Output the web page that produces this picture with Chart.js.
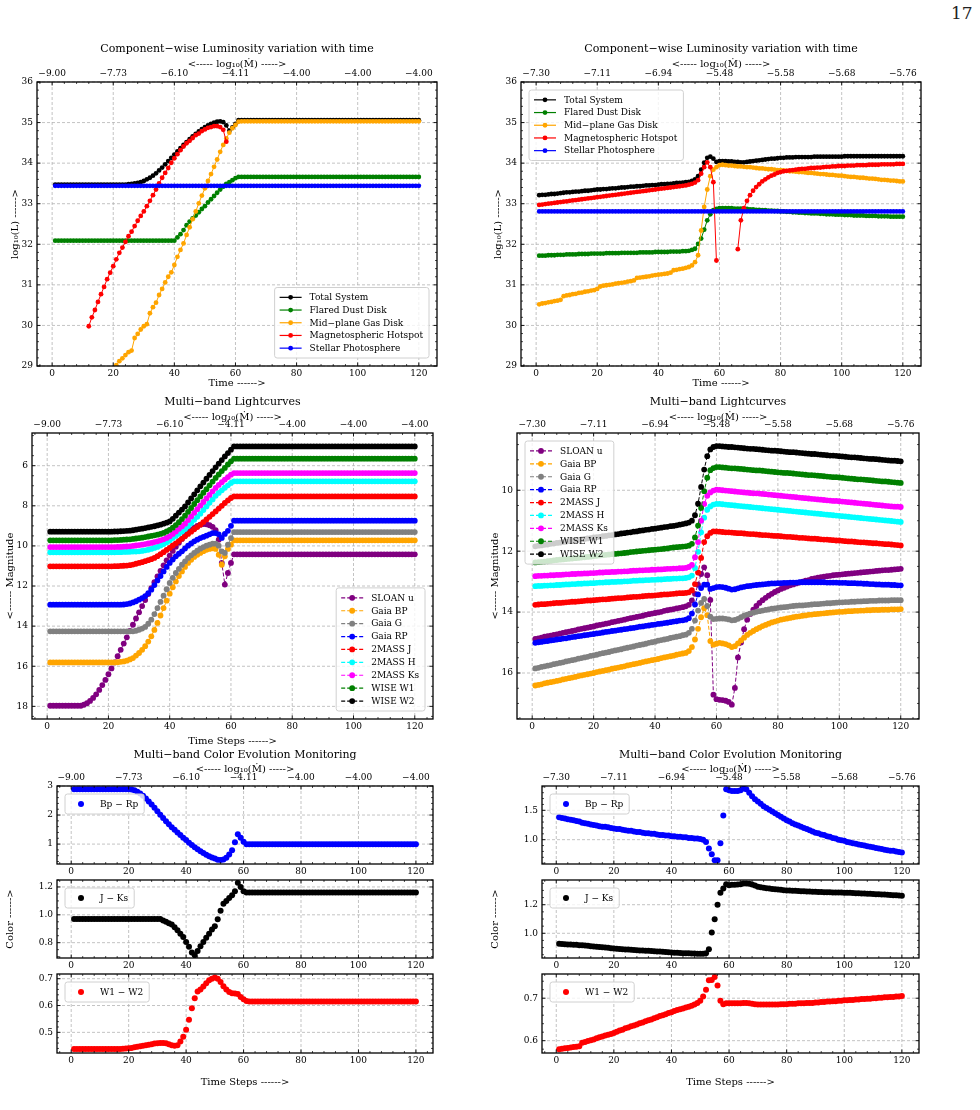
<!DOCTYPE html>
<html>
<head>
<meta charset="utf-8">
<script src="https://cdn.jsdelivr.net/npm/chart.js@4.4.0/dist/chart.umd.min.js"></script>
<style>
  html, body { margin: 0; padding: 0; background: #fff; }
  #page { position: relative; width: 980px; height: 1110px; overflow: hidden; background: #fff; }
  #pageNo { position: absolute; left: 951px; top: 3px; font: 17px 'DejaVu Serif', serif; color: #222; }
</style>
</head>
<body>
<div id="page"><div id="pageNo">17</div></div>
<script>
// ---- data -------------------------------------------------------------
const rep = (v, n) => Array(n).fill(v);
const timeSteps = Array.from({length: 120}, (_, i) => i + 1);

const mdotTicksL = ['−9.00', '−7.73', '−6.10', '−4.11', '−4.00', '−4.00', '−4.00'];
const mdotTicksR = ['−7.30', '−7.11', '−6.94', '−5.48', '−5.58', '−5.68', '−5.76'];

const lumNames = ['Total System', 'Flared Dust Disk', 'Mid−plane Gas Disk', 'Magnetospheric Hotspot', 'Stellar Photosphere'];
const bandNames = ['SLOAN u', 'Gaia BP', 'Gaia G', 'Gaia RP', '2MASS J', '2MASS H', '2MASS Ks', 'WISE W1', 'WISE W2'];
const colorNames = ['Bp − Rp', 'J − Ks', 'W1 − W2'];

// left column: log10 L
const lumTotalL = [...rep(33.47, 24),
  33.48, 33.49, 33.50, 33.51, 33.53, 33.56, 33.60, 33.64, 33.69, 33.75,
  33.82, 33.89, 33.97, 34.05, 34.13, 34.21, 34.29, 34.37, 34.45, 34.52,
  34.59, 34.66, 34.72, 34.78, 34.84, 34.89, 34.93, 34.97, 35.00, 35.02,
  35.03, 35.01, 34.93, 34.80, 34.88, 34.97, 35.06, ...rep(35.06, 59)];
const lumDustL = [...rep(32.09, 40),
  32.17, 32.25, 32.35, 32.47, 32.56, 32.64, 32.71, 32.79, 32.87, 32.94,
  33.03, 33.11, 33.19, 33.27, 33.35, 33.42, 33.49, 33.53, 33.58, 33.63,
  33.66, ...rep(33.66, 59)];
const lumGasL = [...rep(null, 20),
  29.02, 29.12, 29.19, 29.27, 29.34, 29.38, 29.69, 29.79, 29.90, 29.98,
  30.03, 30.30, 30.45, 30.56, 30.75, 30.90, 31.06, 31.20, 31.31, 31.49,
  31.69, 31.86, 32.02, 32.23, 32.42, 32.62, 32.81, 33.01, 33.20, 33.38,
  33.56, 33.73, 33.91, 34.09, 34.28, 34.45, 34.61, 34.75, 34.86, 34.94,
  35.02, ...rep(35.03, 59)];
const lumSpotL = [...rep(null, 11),
  29.98, 30.20, 30.38, 30.58, 30.77, 30.95, 31.14, 31.30, 31.46,
  31.63, 31.79, 31.92, 32.06, 32.20, 32.31, 32.45, 32.58, 32.70, 32.81,
  32.94, 33.07, 33.21, 33.35, 33.50, 33.64, 33.76, 33.88, 34.01, 34.12,
  34.22, 34.32, 34.41, 34.49, 34.55, 34.62, 34.69, 34.73, 34.79, 34.83,
  34.87, 34.89, 34.91, 34.91, 34.89, 34.82, 34.53, ...rep(null, 63)];
const lumStarL = rep(33.44, 120);

// right column: log10 L
const lumTotalR = [
  33.21, 33.22, 33.22, 33.23, 33.24, 33.24, 33.25, 33.26, 33.27, 33.28,
  33.28, 33.29, 33.30, 33.30, 33.31, 33.32, 33.32, 33.33, 33.34, 33.35,
  33.35, 33.36, 33.36, 33.37, 33.38, 33.38, 33.39, 33.40, 33.40, 33.41,
  33.42, 33.42, 33.43, 33.43, 33.44, 33.45, 33.45, 33.46, 33.46, 33.47,
  33.48, 33.48, 33.49, 33.49, 33.50, 33.51, 33.51, 33.52, 33.53, 33.54,
  33.56, 33.60, 33.68, 33.84, 34.01, 34.13, 34.16, 34.11, 34.03, 34.05,
  34.05, 34.05, 34.04, 34.04, 34.03, 34.03, 34.02, 34.02, 34.03, 34.04,
  34.05, 34.06, 34.07, 34.08, 34.09, 34.10, 34.11, 34.11, 34.12, 34.13,
  34.13, 34.14, 34.14, 34.14, 34.15, 34.15, 34.15, 34.15, 34.15, 34.15,
  ...rep(34.16, 10), ...rep(34.17, 20)];
const lumDustR = [
  31.72, 31.72, 31.72, 31.73, 31.73, 31.73, 31.74, 31.74, 31.74, 31.75,
  31.75, 31.75, 31.75, 31.76, 31.76, 31.76, 31.76, 31.77, 31.77, 31.77,
  31.77, 31.77, 31.78, 31.78, 31.78, 31.78, 31.78, 31.79, 31.79, 31.79,
  31.79, 31.79, 31.79, 31.80, 31.80, 31.80, 31.80, 31.80, 31.81, 31.81,
  31.81, 31.81, 31.81, 31.82, 31.82, 31.82, 31.82, 31.83, 31.83, 31.84,
  31.86, 31.89, 32.01, 32.14, 32.36, 32.59, 32.74, 32.84, 32.87, 32.89,
  32.89, 32.89, 32.89, 32.89, 32.88, 32.88, 32.88, 32.87, 32.87, 32.86,
  32.86, 32.85, 32.85, 32.84, 32.84, 32.83, 32.83, 32.82, 32.82, 32.81,
  32.81, 32.80, 32.80, 32.79, 32.79, 32.78, 32.78, 32.77, 32.77, 32.76,
  32.76, 32.76, 32.75, 32.75, 32.74, 32.74, 32.74, 32.73, 32.73, 32.73,
  32.72, 32.72, 32.72, 32.71, 32.71, 32.71, 32.71, 32.70, 32.70, 32.70,
  32.70, 32.69, 32.69, 32.69, 32.69, 32.68, 32.68, 32.68, 32.68, 32.68];
const lumGasR = [
  30.52, 30.54, 30.55, 30.57, 30.58, 30.60, 30.61, 30.63, 30.72, 30.74,
  30.75, 30.77, 30.78, 30.80, 30.81, 30.83, 30.84, 30.86, 30.87, 30.90,
  30.96, 30.98, 30.99, 31.00, 31.01, 31.03, 31.04, 31.05, 31.06, 31.08,
  31.09, 31.11, 31.17, 31.18, 31.19, 31.20, 31.21, 31.23, 31.24, 31.25,
  31.26, 31.27, 31.28, 31.30, 31.36, 31.37, 31.39, 31.40, 31.42, 31.44,
  31.48, 31.56, 31.73, 32.34, 32.92, 33.35, 33.68, 33.84, 33.90, 33.95,
  33.96, 33.95, 33.94, 33.94, 33.93, 33.92, 33.92, 33.91, 33.90, 33.90,
  33.89, 33.88, 33.87, 33.87, 33.86, 33.85, 33.85, 33.84, 33.83, 33.83,
  33.82, 33.81, 33.80, 33.80, 33.79, 33.78, 33.78, 33.77, 33.76, 33.76,
  33.75, 33.74, 33.73, 33.73, 33.72, 33.71, 33.71, 33.70, 33.69, 33.69,
  33.68, 33.67, 33.66, 33.66, 33.65, 33.64, 33.64, 33.63, 33.62, 33.62,
  33.61, 33.60, 33.59, 33.59, 33.58, 33.57, 33.57, 33.56, 33.55, 33.55];
const lumSpotR = [
  32.97, 32.98, 32.99, 33.00, 33.01, 33.02, 33.03, 33.04, 33.05, 33.06,
  33.07, 33.08, 33.09, 33.10, 33.11, 33.12, 33.13, 33.14, 33.15, 33.16,
  33.17, 33.18, 33.19, 33.20, 33.21, 33.22, 33.23, 33.24, 33.25, 33.26,
  33.27, 33.28, 33.29, 33.30, 33.31, 33.32, 33.33, 33.34, 33.35, 33.36,
  33.37, 33.38, 33.39, 33.40, 33.41, 33.42, 33.43, 33.44, 33.45, 33.47,
  33.49, 33.52, 33.58, 33.74, 33.90, 34.02, 33.90, 33.53, 31.60,
  ...rep(null, 6),
  31.88, 32.59, 32.89, 33.07, 33.21,
  33.32, 33.41, 33.48, 33.55, 33.60, 33.65, 33.69, 33.72, 33.76, 33.78,
  33.80, 33.81, 33.82, 33.83, 33.84, 33.85, 33.86, 33.86, 33.87, 33.88,
  33.88, 33.89, 33.89, 33.90, 33.91, 33.91, 33.92, 33.92, 33.93, 33.93,
  33.93, 33.94, 33.94, 33.94, 33.95, 33.95, 33.95, 33.95, 33.96, 33.96,
  33.96, 33.96, 33.97, 33.97, 33.97, 33.97, 33.97, 33.98, 33.98, 33.98];
const lumStarR = rep(32.81, 120);

// left column: magnitudes
const magUL = [...rep(17.97, 11),
  17.92, 17.84, 17.73, 17.58, 17.40, 17.18, 16.94, 16.68, 16.40,
  16.11, 15.81, 15.50, 15.18, 14.87, 14.56, 14.24, 13.93, 13.62, 13.31,
  13.00, 12.70, 12.40, 12.10, 11.81, 11.52, 11.24, 10.97, 10.72, 10.48,
  10.25, 10.04, 9.84, 9.65, 9.48, 9.33, 9.20, 9.09, 9.00, 8.94,
  8.91, 8.92, 8.97, 9.05, 9.22, 9.69, 10.85, 11.93, 11.35, 10.85,
  10.42, ...rep(10.42, 59)];
const magBPL = [...rep(15.81, 22),
  15.80, 15.78, 15.76, 15.72, 15.66, 15.59, 15.47, 15.34,
  15.18, 15.00, 14.77, 14.51, 14.19, 13.84, 13.47, 13.10, 12.73, 12.38,
  12.06, 11.77, 11.50, 11.27, 11.05, 10.85, 10.69, 10.55, 10.44, 10.35,
  10.26, 10.19, 10.15, 10.12, 10.15, 10.44, 10.94, 10.52, 10.15, 9.94,
  9.72, ...rep(9.72, 59)];
const magGL = [...rep(14.26, 28),
  14.23, 14.18,
  14.12, 14.04, 13.88, 13.68, 13.40, 13.10, 12.79, 12.48, 12.16, 11.85,
  11.59, 11.35, 11.14, 10.94, 10.77, 10.60, 10.47, 10.35, 10.24, 10.14,
  10.06, 9.99, 9.94, 9.89, 9.89, 9.99, 10.27, 10.35, 9.94, 9.61,
  9.31, ...rep(9.31, 59)];
const magRPL = [...rep(12.93, 24),
  12.92, 12.90, 12.87, 12.82, 12.76, 12.68,
  12.60, 12.51, 12.36, 12.18, 11.95, 11.72, 11.50, 11.27, 11.05, 10.85,
  10.68, 10.52, 10.39, 10.27, 10.13, 9.99, 9.88, 9.77, 9.69, 9.61,
  9.55, 9.49, 9.42, 9.36, 9.36, 9.42, 9.60, 9.40, 9.25, 9.00,
  8.74, ...rep(8.74, 59)];
const magJL = [...rep(11.02, 21),
  11.01, 11.01, 11.00, 10.99, 10.98, 10.96, 10.93, 10.89, 10.85,
  10.81, 10.76, 10.71, 10.66, 10.60, 10.51, 10.41, 10.31, 10.20, 10.10,
  9.98, 9.87, 9.75, 9.64, 9.52, 9.40, 9.29, 9.17, 9.06, 8.94,
  8.81, 8.68, 8.55, 8.41, 8.28, 8.14, 8.00, 7.86, 7.73, 7.61,
  7.53, ...rep(7.53, 59)];
const magHL = [...rep(10.32, 22),
  10.31, 10.31, 10.30, 10.30, 10.29, 10.28, 10.28, 10.27,
  10.25, 10.22, 10.19, 10.15, 10.10, 10.05, 9.98, 9.91, 9.82, 9.72,
  9.61, 9.50, 9.39, 9.28, 9.16, 9.01, 8.86, 8.70, 8.55, 8.39,
  8.21, 8.03, 7.85, 7.68, 7.50, 7.36, 7.23, 7.10, 6.98, 6.86,
  6.78, ...rep(6.78, 59)];
const magKsL = [...rep(10.06, 22),
  10.05, 10.05, 10.04, 10.03, 10.02, 10.00, 9.98, 9.96,
  9.94, 9.91, 9.88, 9.85, 9.81, 9.77, 9.72, 9.67, 9.60, 9.52,
  9.40, 9.28, 9.15, 9.02, 8.89, 8.71, 8.53, 8.35, 8.17, 7.99,
  7.81, 7.63, 7.46, 7.28, 7.11, 6.96, 6.82, 6.69, 6.57, 6.45,
  6.37, ...rep(6.37, 59)];
const magW1L = [...rep(9.72, 20),
  9.72, 9.71, 9.71, 9.70, 9.69, 9.68, 9.67, 9.65, 9.63, 9.61,
  9.59, 9.56, 9.53, 9.50, 9.47, 9.44, 9.40, 9.35, 9.28, 9.20,
  9.09, 8.96, 8.82, 8.66, 8.49, 8.30, 8.11, 7.91, 7.72, 7.53,
  7.35, 7.17, 6.98, 6.79, 6.61, 6.44, 6.27, 6.11, 5.94, 5.78,
  5.65, ...rep(5.65, 59)];
const magW2L = [...rep(9.29, 20),
  9.29, 9.28, 9.28, 9.27, 9.26, 9.25, 9.24, 9.22, 9.19, 9.16,
  9.14, 9.11, 9.08, 9.05, 9.02, 8.98, 8.94, 8.89, 8.84, 8.78,
  8.65, 8.49, 8.34, 8.19, 8.03, 7.83, 7.63, 7.43, 7.23, 7.03,
  6.84, 6.65, 6.46, 6.27, 6.08, 5.90, 5.72, 5.54, 5.37, 5.20,
  5.04, ...rep(5.04, 59)];

// right column: magnitudes
const magUR = [
  14.88, 14.86, 14.84, 14.81, 14.79, 14.77, 14.75, 14.73, 14.71, 14.68,
  14.66, 14.64, 14.62, 14.60, 14.57, 14.55, 14.53, 14.51, 14.49, 14.47,
  14.44, 14.42, 14.40, 14.38, 14.36, 14.33, 14.31, 14.29, 14.27, 14.25,
  14.22, 14.20, 14.18, 14.16, 14.14, 14.12, 14.09, 14.07, 14.05, 14.03,
  14.01, 13.99, 13.96, 13.94, 13.92, 13.90, 13.88, 13.86, 13.84, 13.81,
  13.76, 13.62, 13.40, 13.10, 12.75, 12.53, 12.79, 13.60, 16.71, 16.86,
  16.88, 16.89, 16.91, 16.95, 17.04, 16.49, 15.49, 15.00, 14.56, 14.25,
  14.06, 13.92, 13.80, 13.70, 13.61, 13.53, 13.46, 13.40, 13.34, 13.29,
  13.24, 13.20, 13.16, 13.12, 13.09, 13.06, 13.03, 13.00, 12.97, 12.95,
  12.91, 12.89, 12.87, 12.85, 12.84, 12.82, 12.81, 12.79, 12.78, 12.77,
  12.76, 12.75, 12.74, 12.73, 12.72, 12.71, 12.70, 12.69, 12.68, 12.67,
  12.66, 12.65, 12.64, 12.63, 12.62, 12.62, 12.61, 12.60, 12.59, 12.58];
const magBPR = [
  16.41, 16.39, 16.37, 16.34, 16.32, 16.30, 16.28, 16.26, 16.24, 16.21,
  16.19, 16.17, 16.15, 16.13, 16.10, 16.08, 16.06, 16.04, 16.02, 16.00,
  15.97, 15.95, 15.93, 15.91, 15.89, 15.86, 15.84, 15.82, 15.80, 15.78,
  15.75, 15.73, 15.71, 15.69, 15.67, 15.64, 15.62, 15.60, 15.58, 15.56,
  15.54, 15.51, 15.49, 15.47, 15.45, 15.43, 15.40, 15.38, 15.36, 15.34,
  15.28, 15.15, 14.90, 14.55, 14.17, 13.87, 14.10, 14.95, 15.07, 15.04,
  15.01, 15.03, 15.05, 15.09, 15.15, 15.12, 15.03, 14.93, 14.84, 14.75,
  14.68, 14.62, 14.56, 14.51, 14.46, 14.42, 14.38, 14.34, 14.31, 14.28,
  14.25, 14.23, 14.21, 14.19, 14.17, 14.15, 14.14, 14.12, 14.11, 14.09,
  14.08, 14.07, 14.06, 14.05, 14.04, 14.03, 14.02, 14.01, 14.00, 13.99,
  13.99, 13.98, 13.97, 13.97, 13.96, 13.96, 13.95, 13.95, 13.94, 13.94,
  13.93, 13.93, 13.93, 13.92, 13.92, 13.92, 13.91, 13.91, 13.91, 13.90];
const magGR = [
  15.85, 15.83, 15.80, 15.78, 15.76, 15.74, 15.71, 15.69, 15.67, 15.65,
  15.62, 15.60, 15.58, 15.56, 15.53, 15.51, 15.49, 15.47, 15.44, 15.42,
  15.40, 15.37, 15.35, 15.33, 15.31, 15.28, 15.26, 15.24, 15.22, 15.19,
  15.17, 15.15, 15.13, 15.10, 15.08, 15.06, 15.04, 15.01, 14.99, 14.97,
  14.94, 14.92, 14.90, 14.88, 14.85, 14.83, 14.81, 14.79, 14.76, 14.74,
  14.68, 14.55, 14.28, 13.95, 13.70, 13.57, 13.80, 14.15, 14.23, 14.22,
  14.21, 14.21, 14.22, 14.24, 14.27, 14.26, 14.22, 14.17, 14.12, 14.08,
  14.05, 14.02, 13.99, 13.97, 13.95, 13.93, 13.91, 13.89, 13.88, 13.86,
  13.85, 13.84, 13.83, 13.81, 13.80, 13.79, 13.78, 13.78, 13.77, 13.76,
  13.75, 13.74, 13.74, 13.73, 13.72, 13.71, 13.71, 13.70, 13.69, 13.68,
  13.68, 13.67, 13.67, 13.66, 13.66, 13.65, 13.65, 13.64, 13.64, 13.63,
  13.63, 13.63, 13.62, 13.62, 13.62, 13.62, 13.61, 13.61, 13.61, 13.61];
const magRPR = [
  15.01, 14.99, 14.98, 14.96, 14.95, 14.93, 14.92, 14.90, 14.89, 14.87,
  14.86, 14.84, 14.82, 14.81, 14.79, 14.78, 14.76, 14.75, 14.73, 14.72,
  14.70, 14.69, 14.67, 14.65, 14.64, 14.62, 14.61, 14.59, 14.58, 14.56,
  14.55, 14.53, 14.52, 14.50, 14.48, 14.47, 14.45, 14.44, 14.42, 14.41,
  14.39, 14.38, 14.36, 14.35, 14.33, 14.31, 14.30, 14.28, 14.27, 14.25,
  14.20, 14.05, 13.75, 13.42, 13.21, 13.10, 13.10, 13.24, 13.21, 13.18,
  13.17, 13.18, 13.20, 13.23, 13.26, 13.25, 13.22, 13.19, 13.17, 13.15,
  13.14, 13.12, 13.11, 13.10, 13.09, 13.08, 13.07, 13.06, 13.06, 13.05,
  13.05, 13.04, 13.04, 13.03, 13.03, 13.03, 13.02, 13.02, 13.02, 13.02,
  13.02, 13.02, 13.02, 13.02, 13.02, 13.03, 13.03, 13.03, 13.03, 13.04,
  13.04, 13.04, 13.05, 13.05, 13.05, 13.06, 13.06, 13.07, 13.07, 13.08,
  13.08, 13.09, 13.09, 13.10, 13.10, 13.10, 13.11, 13.11, 13.12, 13.12];
const magJR = [
  13.76, 13.75, 13.74, 13.74, 13.73, 13.72, 13.71, 13.70, 13.70, 13.69,
  13.68, 13.67, 13.66, 13.66, 13.65, 13.64, 13.63, 13.62, 13.62, 13.61,
  13.60, 13.59, 13.58, 13.58, 13.57, 13.56, 13.55, 13.54, 13.54, 13.53,
  13.52, 13.51, 13.50, 13.50, 13.49, 13.48, 13.47, 13.46, 13.46, 13.45,
  13.44, 13.43, 13.42, 13.42, 13.41, 13.40, 13.39, 13.38, 13.38, 13.37,
  13.35, 13.28, 13.08, 12.70, 12.22, 11.70, 11.51, 11.40, 11.35, 11.35,
  11.36, 11.37, 11.38, 11.38, 11.39, 11.40, 11.41, 11.41, 11.42, 11.43,
  11.44, 11.44, 11.45, 11.46, 11.47, 11.47, 11.48, 11.49, 11.50, 11.50,
  11.51, 11.52, 11.53, 11.53, 11.54, 11.55, 11.56, 11.56, 11.57, 11.58,
  11.59, 11.59, 11.60, 11.61, 11.62, 11.62, 11.63, 11.64, 11.65, 11.65,
  11.66, 11.67, 11.68, 11.68, 11.69, 11.70, 11.71, 11.71, 11.72, 11.73,
  11.74, 11.74, 11.75, 11.76, 11.77, 11.77, 11.78, 11.79, 11.80, 11.81];
const magHR = [
  13.15, 13.14, 13.14, 13.13, 13.13, 13.12, 13.12, 13.11, 13.11, 13.10,
  13.09, 13.09, 13.08, 13.08, 13.07, 13.07, 13.06, 13.06, 13.05, 13.05,
  13.04, 13.03, 13.03, 13.02, 13.02, 13.01, 13.01, 13.00, 13.00, 12.99,
  12.99, 12.98, 12.97, 12.97, 12.96, 12.96, 12.95, 12.95, 12.94, 12.94,
  12.93, 12.93, 12.92, 12.91, 12.91, 12.90, 12.90, 12.89, 12.89, 12.88,
  12.86, 12.80, 12.55, 12.02, 11.38, 10.90, 10.64, 10.53, 10.47, 10.45,
  10.45, 10.46, 10.47, 10.48, 10.49, 10.50, 10.51, 10.52, 10.53, 10.54,
  10.55, 10.56, 10.57, 10.58, 10.59, 10.60, 10.61, 10.62, 10.63, 10.64,
  10.65, 10.66, 10.67, 10.68, 10.69, 10.70, 10.71, 10.72, 10.73, 10.74,
  10.75, 10.76, 10.77, 10.78, 10.79, 10.80, 10.81, 10.82, 10.83, 10.84,
  10.85, 10.86, 10.87, 10.88, 10.89, 10.90, 10.91, 10.92, 10.93, 10.94,
  10.95, 10.96, 10.97, 10.98, 10.99, 11.00, 11.01, 11.02, 11.03, 11.04];
const magKsR = [
  12.82, 12.81, 12.81, 12.80, 12.80, 12.79, 12.79, 12.78, 12.78, 12.77,
  12.76, 12.76, 12.75, 12.75, 12.74, 12.74, 12.73, 12.73, 12.72, 12.72,
  12.71, 12.70, 12.70, 12.69, 12.69, 12.68, 12.68, 12.67, 12.67, 12.66,
  12.66, 12.65, 12.64, 12.64, 12.63, 12.63, 12.62, 12.62, 12.61, 12.61,
  12.60, 12.60, 12.59, 12.58, 12.58, 12.57, 12.57, 12.56, 12.56, 12.55,
  12.52, 12.45, 12.20, 11.70, 11.00, 10.45, 10.18, 10.07, 10.01, 9.98,
  9.99, 10.00, 10.01, 10.02, 10.03, 10.04, 10.05, 10.06, 10.07, 10.08,
  10.09, 10.10, 10.10, 10.11, 10.12, 10.13, 10.14, 10.15, 10.16, 10.17,
  10.18, 10.19, 10.20, 10.21, 10.22, 10.23, 10.24, 10.25, 10.26, 10.27,
  10.28, 10.29, 10.30, 10.31, 10.32, 10.33, 10.34, 10.35, 10.35, 10.36,
  10.37, 10.38, 10.39, 10.40, 10.41, 10.42, 10.43, 10.44, 10.45, 10.46,
  10.47, 10.48, 10.49, 10.50, 10.51, 10.52, 10.53, 10.54, 10.54, 10.55];
const magW1R = [
  12.37, 12.36, 12.35, 12.34, 12.33, 12.32, 12.30, 12.29, 12.28, 12.27,
  12.26, 12.25, 12.24, 12.23, 12.22, 12.21, 12.20, 12.19, 12.18, 12.16,
  12.15, 12.14, 12.13, 12.12, 12.11, 12.10, 12.09, 12.08, 12.07, 12.06,
  12.05, 12.03, 12.02, 12.01, 12.00, 11.99, 11.98, 11.97, 11.96, 11.95,
  11.94, 11.93, 11.92, 11.91, 11.89, 11.88, 11.87, 11.86, 11.85, 11.84,
  11.82, 11.76, 11.55, 11.16, 10.58, 10.03, 9.59, 9.34, 9.27, 9.24,
  9.24, 9.25, 9.26, 9.27, 9.28, 9.28, 9.29, 9.30, 9.31, 9.32,
  9.33, 9.34, 9.35, 9.35, 9.36, 9.37, 9.38, 9.39, 9.40, 9.41,
  9.42, 9.43, 9.43, 9.44, 9.45, 9.46, 9.47, 9.48, 9.49, 9.50,
  9.50, 9.51, 9.52, 9.53, 9.54, 9.55, 9.56, 9.57, 9.57, 9.58,
  9.59, 9.60, 9.61, 9.62, 9.63, 9.64, 9.64, 9.65, 9.66, 9.67,
  9.68, 9.69, 9.70, 9.71, 9.71, 9.72, 9.73, 9.74, 9.75, 9.76];
const magW2R = [
  11.84, 11.82, 11.81, 11.79, 11.78, 11.76, 11.75, 11.73, 11.72, 11.70,
  11.69, 11.67, 11.66, 11.64, 11.63, 11.61, 11.60, 11.58, 11.57, 11.55,
  11.54, 11.53, 11.51, 11.50, 11.48, 11.47, 11.45, 11.44, 11.42, 11.41,
  11.39, 11.38, 11.36, 11.35, 11.33, 11.32, 11.30, 11.29, 11.27, 11.26,
  11.24, 11.23, 11.21, 11.20, 11.18, 11.17, 11.15, 11.13, 11.11, 11.09,
  11.06, 11.00, 10.82, 10.44, 9.89, 9.32, 8.88, 8.66, 8.58, 8.55,
  8.55, 8.56, 8.57, 8.58, 8.58, 8.59, 8.60, 8.61, 8.62, 8.63,
  8.64, 8.64, 8.65, 8.66, 8.67, 8.68, 8.69, 8.70, 8.70, 8.71,
  8.72, 8.73, 8.74, 8.75, 8.75, 8.76, 8.77, 8.78, 8.79, 8.80,
  8.81, 8.81, 8.82, 8.83, 8.84, 8.85, 8.86, 8.86, 8.87, 8.88,
  8.89, 8.90, 8.91, 8.92, 8.92, 8.93, 8.94, 8.95, 8.96, 8.97,
  8.97, 8.98, 8.99, 9.00, 9.01, 9.02, 9.03, 9.03, 9.04, 9.05];

// colour indices
const colBpRpL = [...rep(2.89, 20),
  2.88, 2.85, 2.80, 2.74, 2.66, 2.57, 2.47, 2.36, 2.25, 2.13,
  2.01, 1.90, 1.79, 1.68, 1.58, 1.49, 1.40, 1.31, 1.22, 1.14,
  1.05, 0.97, 0.89, 0.82, 0.75, 0.69, 0.63, 0.58, 0.54, 0.50,
  0.46, 0.45, 0.47, 0.53, 0.64, 0.79, 1.06, 1.34, 1.22, 1.08,
  0.99, ...rep(0.99, 59)];
const colJKsL = [...rep(0.97, 31),
  0.96, 0.95, 0.94, 0.93, 0.91, 0.89, 0.865, 0.84, 0.805,
  0.77, 0.73, 0.71, 0.74, 0.775, 0.805, 0.836, 0.865, 0.894, 0.918,
  0.969, 1.03, 1.08, 1.10, 1.12, 1.14, 1.17, 1.23, 1.20, 1.17,
  1.16, ...rep(1.16, 59)];
const colW1W2L = [...rep(0.438, 17),
  0.439, 0.440, 0.441,
  0.442, 0.444, 0.446, 0.448, 0.450, 0.452, 0.454, 0.456, 0.458, 0.459,
  0.460, 0.460, 0.459, 0.456, 0.452, 0.450, 0.452, 0.466, 0.484, 0.510,
  0.547, 0.590, 0.627, 0.652, 0.660, 0.671, 0.683, 0.694, 0.700, 0.704,
  0.700, 0.688, 0.672, 0.660, 0.650, 0.646, 0.645, 0.643, 0.632, 0.623,
  0.617, ...rep(0.615, 59)];
const colBpRpR = [
  1.38, 1.37, 1.36, 1.35, 1.34, 1.33, 1.32, 1.31, 1.29, 1.28,
  1.27, 1.26, 1.25, 1.24, 1.23, 1.22, 1.22, 1.21, 1.20, 1.19,
  1.18, 1.18, 1.17, 1.16, 1.15, 1.15, 1.14, 1.13, 1.13, 1.12,
  1.11, 1.11, 1.10, 1.10, 1.09, 1.08, 1.08, 1.07, 1.07, 1.06,
  1.06, 1.05, 1.05, 1.04, 1.04, 1.03, 1.03, 1.02, 1.02, 1.01,
  1.00, 0.96, 0.85, 0.75, 0.65, 0.65, 0.94, 1.41, 1.86, 1.84,
  1.83, 1.83, 1.83, 1.84, 1.87, 1.86, 1.80, 1.74, 1.69, 1.65,
  1.61, 1.57, 1.54, 1.51, 1.48, 1.45, 1.42, 1.39, 1.36, 1.33,
  1.31, 1.28, 1.26, 1.24, 1.22, 1.20, 1.18, 1.16, 1.14, 1.12,
  1.11, 1.09, 1.08, 1.06, 1.05, 1.03, 1.02, 1.00, 0.99, 0.98,
  0.96, 0.95, 0.94, 0.93, 0.92, 0.91, 0.90, 0.89, 0.88, 0.87,
  0.86, 0.85, 0.84, 0.83, 0.82, 0.81, 0.81, 0.80, 0.79, 0.78];
const colJKsR = [
  0.926, 0.925, 0.924, 0.922, 0.921, 0.920, 0.919, 0.917, 0.916, 0.914,
  0.912, 0.910, 0.908, 0.906, 0.904, 0.902, 0.900, 0.898, 0.896, 0.893,
  0.892, 0.890, 0.889, 0.887, 0.886, 0.884, 0.883, 0.882, 0.880, 0.879,
  0.878, 0.877, 0.876, 0.874, 0.873, 0.872, 0.870, 0.869, 0.867, 0.865,
  0.864, 0.863, 0.862, 0.861, 0.861, 0.860, 0.859, 0.858, 0.857, 0.856,
  0.856, 0.860, 0.888, 1.005, 1.098, 1.200, 1.284, 1.314, 1.344, 1.337,
  1.340, 1.340, 1.341, 1.343, 1.349, 1.349, 1.346, 1.341, 1.334, 1.326,
  1.322, 1.319, 1.316, 1.313, 1.310, 1.308, 1.306, 1.304, 1.302, 1.300,
  1.299, 1.298, 1.297, 1.296, 1.295, 1.294, 1.293, 1.292, 1.291, 1.290,
  1.289, 1.289, 1.288, 1.288, 1.287, 1.286, 1.286, 1.285, 1.285, 1.284,
  1.283, 1.283, 1.282, 1.281, 1.280, 1.279, 1.278, 1.277, 1.276, 1.275,
  1.274, 1.273, 1.272, 1.271, 1.270, 1.268, 1.267, 1.266, 1.264, 1.263];
const colW1W2R = [
  0.580, 0.581, 0.582, 0.583, 0.584, 0.585, 0.586, 0.587, 0.595, 0.597,
  0.599, 0.601, 0.603, 0.606, 0.608, 0.610, 0.612, 0.614, 0.616, 0.618,
  0.621, 0.624, 0.626, 0.629, 0.631, 0.634, 0.636, 0.638, 0.641, 0.643,
  0.646, 0.648, 0.650, 0.653, 0.655, 0.658, 0.660, 0.662, 0.665, 0.667,
  0.670, 0.672, 0.674, 0.676, 0.678, 0.680, 0.682, 0.685, 0.689, 0.694,
  0.704, 0.720, 0.742, 0.743, 0.750, 0.730, 0.694, 0.686, 0.688, 0.688,
  0.688, 0.688, 0.688, 0.688, 0.689, 0.689, 0.688, 0.687, 0.686, 0.685,
  0.685, 0.685, 0.685, 0.685, 0.685, 0.685, 0.685, 0.686, 0.686, 0.686,
  0.687, 0.687, 0.687, 0.688, 0.688, 0.688, 0.689, 0.689, 0.689, 0.690,
  0.690, 0.691, 0.691, 0.692, 0.692, 0.693, 0.693, 0.694, 0.694, 0.695,
  0.695, 0.696, 0.696, 0.697, 0.697, 0.698, 0.698, 0.699, 0.699, 0.700,
  0.700, 0.701, 0.701, 0.702, 0.702, 0.703, 0.703, 0.704, 0.704, 0.705];

// ---- styling ------------------------------------------------------------
const lumColors = ['#000000', '#008000', '#ffa500', '#ff0000', '#0000ff'];
const bandColors = ['#800080', '#ffa500', '#808080', '#0000ff', '#ff0000', '#00ffff', '#ff00ff', '#008000', '#000000'];
const colorColors = ['#0000ff', '#000000', '#ff0000'];
const X_MIN = -4.95, X_MAX = 125.95;
const FONT = "'DejaVu Serif', serif";

Chart.defaults.font.family = FONT;
Chart.defaults.font.size = 9;
Chart.defaults.color = '#000';

function minorValues(min, max, step, major) {
  const out = [];
  for (let k = Math.ceil(min / step - 1e-9); k * step <= max + 1e-9; k++) {
    const v = k * step, q = v / major;
    if (Math.abs(q - Math.round(q)) > 1e-6) out.push(v);
  }
  return out;
}

function drawLegend(chart, spec) {
  const {ctx, chartArea: a} = chart;
  const ds = chart.data.datasets;
  ctx.save();
  ctx.font = '9px ' + FONT;
  const textW = Math.max(...ds.map(d => ctx.measureText(d.label).width));
  const w = 5 + 22 + spec.gap + textW + 6;
  const h = ds.length * spec.rowH + 2 * spec.padY;
  const x = spec.loc === 'lower right' ? a.right - 8 - w : a.left + 8;
  const y = spec.loc === 'lower right' ? a.bottom - 8 - h : a.top + 8;
  ctx.beginPath();
  if (ctx.roundRect) ctx.roundRect(x, y, w, h, 2.5); else ctx.rect(x, y, w, h);
  ctx.fillStyle = 'rgba(255,255,255,0.8)';
  ctx.fill();
  ctx.strokeStyle = '#d0d0d0';
  ctx.lineWidth = 1;
  ctx.stroke();
  ds.forEach((d, i) => {
    const cy = y + spec.padY + spec.rowH * (i + 0.5);
    const x0 = x + 5;
    if (d.showLine) {
      ctx.beginPath();
      ctx.setLineDash(d.borderDash || []);
      ctx.strokeStyle = d.borderColor;
      ctx.lineWidth = 1.2;
      ctx.moveTo(x0, cy);
      ctx.lineTo(x0 + 22, cy);
      ctx.stroke();
      ctx.setLineDash([]);
    }
    ctx.beginPath();
    ctx.fillStyle = d.backgroundColor;
    ctx.arc(x0 + 11, cy, spec.markR, 0, Math.PI * 2);
    ctx.fill();
    ctx.fillStyle = '#000';
    ctx.textBaseline = 'middle';
    ctx.textAlign = 'left';
    ctx.fillText(d.label, x0 + 22 + spec.gap, cy + 0.5);
  });
  ctx.restore();
}

// matplotlib-like frame: dashed grid, inward major/minor ticks, box, legend
const mplFrame = {
  id: 'mplFrame',
  beforeDatasetsDraw(chart, args, o) {
    const {ctx, chartArea: a} = chart;
    const sx = chart.scales.x, sy = chart.scales.y;
    ctx.save();
    ctx.strokeStyle = '#b4b4b4';
    ctx.lineWidth = 0.8;
    ctx.setLineDash([3, 2]);
    ctx.beginPath();
    sx.ticks.forEach(t => { const p = sx.getPixelForValue(t.value); ctx.moveTo(p, a.top); ctx.lineTo(p, a.bottom); });
    sy.ticks.forEach(t => { const p = sy.getPixelForValue(t.value); ctx.moveTo(a.left, p); ctx.lineTo(a.right, p); });
    ctx.stroke();
    ctx.restore();
  },
  afterDatasetsDraw(chart, args, o) {
    const {ctx, chartArea: a} = chart;
    const sx = chart.scales.x, sy = chart.scales.y;
    ctx.save();
    ctx.strokeStyle = '#000';
    const xt = (p, len) => { ctx.moveTo(p, a.bottom); ctx.lineTo(p, a.bottom - len); ctx.moveTo(p, a.top); ctx.lineTo(p, a.top + len); };
    const yt = (p, len) => { ctx.moveTo(a.left, p); ctx.lineTo(a.left + len, p); ctx.moveTo(a.right, p); ctx.lineTo(a.right - len, p); };
    ctx.lineWidth = 0.9;
    ctx.beginPath();
    sx.ticks.forEach(t => xt(sx.getPixelForValue(t.value), 3.5));
    sy.ticks.forEach(t => yt(sy.getPixelForValue(t.value), 3.5));
    ctx.stroke();
    ctx.lineWidth = 0.7;
    ctx.beginPath();
    minorValues(sx.min, sx.max, o.xMinor, o.xMajor).forEach(v => xt(sx.getPixelForValue(v), 2));
    minorValues(sy.min, sy.max, o.yMinor, o.yMajor).forEach(v => yt(sy.getPixelForValue(v), 2));
    ctx.stroke();
    ctx.lineWidth = 1.3;
    ctx.strokeRect(a.left, a.top, a.width, a.height);
    ctx.restore();
    if (o.legend) drawLegend(chart, o.legend);
  }
};
Chart.register(mplFrame);

function series(label, values, color, st) {
  return {
    label,
    data: values.map((v, i) => ({x: timeSteps[i], y: v})),
    borderColor: color,
    backgroundColor: color,
    pointBackgroundColor: color,
    pointBorderWidth: 0,
    pointRadius: st.r,
    borderWidth: st.lw,
    borderDash: st.dash || [],
    showLine: st.line,
    spanGaps: false
  };
}

const page = document.getElementById('page');
const noTicks = {display: false, drawTicks: false};

function panel(cfg) {
  const r = cfg.rect;
  const padL = cfg.yTitle ? r.l - cfg.yTitleX + 8 : 40;
  const top0 = cfg.title ? cfg.titleY - 10 : r.t - 12;
  const padT = r.t - top0;
  const padB = cfg.xTitle ? cfg.xTitleY - r.b + 8 : 20;
  const padR = 26;
  const W = r.r - r.l + padL + padR;
  const H = r.b - r.t + padT + padB;
  const cv = document.createElement('canvas');
  cv.width = W;
  cv.height = H;
  Object.assign(cv.style, {position: 'absolute', left: (r.l - padL) + 'px', top: top0 + 'px', width: W + 'px', height: H + 'px'});
  page.appendChild(cv);

  const titleH = cfg.title ? 11 * 1.2 + 3.4 : 0;
  const axisSize = 10;
  const scales = {
    x: {
      type: 'linear', position: 'bottom', min: X_MIN, max: X_MAX,
      grid: noTicks, border: {display: false},
      ticks: {stepSize: 20, includeBounds: false, padding: 2, maxRotation: 0, autoSkip: false},
      title: cfg.xTitle
        ? {display: true, text: cfg.xTitle, font: {size: axisSize}, padding: {top: 0, bottom: 8 - 0.6 * axisSize}}
        : {display: false},
      afterFit: s => { s.height = padB; }
    },
    y: {
      type: 'linear', position: 'left', min: cfg.yMin, max: cfg.yMax, reverse: !!cfg.reverse,
      grid: noTicks, border: {display: false},
      ticks: {stepSize: cfg.yStep, includeBounds: false, padding: 4, callback: v => v.toFixed(cfg.yDec)},
      title: cfg.yTitle
        ? {display: true, text: cfg.yTitle, font: {size: axisSize}, padding: {top: 8 - 0.6 * axisSize, bottom: 0}}
        : {display: false},
      afterFit: s => { s.width = padL; }
    }
  };
  if (cfg.topLabels) {
    scales.x2 = {
      type: 'linear', position: 'top', min: X_MIN, max: X_MAX,
      grid: noTicks, border: {display: false},
      ticks: {stepSize: 20, includeBounds: false, padding: 3, maxRotation: 0, autoSkip: false,
        callback: v => cfg.topLabels[Math.round(v / 20)]},
      title: {display: true, text: '<----- log₁₀(Ṁ) ----->', font: {size: 10},
        padding: {top: cfg.topTitleY - top0 - titleH - 6, bottom: 0}},
      afterFit: s => { s.height = padT - titleH; }
    };
  }
  cfg.datasets.forEach((d, i) => { d.order = -i; });
  new Chart(cv, {
    type: 'line',
    data: {datasets: cfg.datasets},
    options: {
      responsive: false,
      animation: false,
      events: [],
      layout: {padding: {left: 0, right: padR, top: cfg.title ? 0 : padT, bottom: 0}},
      scales,
      plugins: {
        legend: {display: false},
        tooltip: {enabled: false},
        title: cfg.title
          ? {display: true, text: cfg.title, color: '#000', font: {size: 11, weight: 'normal'},
             padding: {top: 3.4, bottom: 0}, fullSize: false}
          : {display: false},
        mplFrame: {xMinor: 4, xMajor: 20, yMinor: cfg.yMinor, yMajor: cfg.yStep, legend: cfg.legend || null}
      }
    }
  });
}

const lineSt = {r: 2.4, lw: 1, line: true};
const magSt = {r: 2.9, lw: 1, line: true, dash: [4, 2]};
const dotSt = {r: 3, lw: 0, line: false};
const lumLegend = {rowH: 12.7, padY: 3.5, gap: 8, markR: 2.4};
const bandLegend = {rowH: 12.9, padY: 3.5, gap: 8, markR: 2.9};
const colLegend = {loc: 'upper left', rowH: 13, padY: 3.5, gap: 8, markR: 3};
const lumTitle = 'Component−wise Luminosity variation with time';
const colTitle = 'Multi−band Color Evolution Monitoring';

// top row: luminosity
panel({rect: {l: 37, t: 82, r: 437, b: 366}, title: lumTitle, titleY: 49, topLabels: mdotTicksL, topTitleY: 64,
  yTitle: 'log₁₀(L) ------>', yTitleX: 15, xTitle: 'Time ------>', xTitleY: 383,
  yMin: 29, yMax: 36, yStep: 1, yDec: 0, yMinor: 0.2, legend: Object.assign({loc: 'lower right'}, lumLegend),
  datasets: [lumTotalL, lumDustL, lumGasL, lumSpotL, lumStarL].map((v, i) => series(lumNames[i], v, lumColors[i], lineSt))});
panel({rect: {l: 521, t: 82, r: 921, b: 366}, title: lumTitle, titleY: 49, topLabels: mdotTicksR, topTitleY: 64,
  yTitle: 'log₁₀(L) ------>', yTitleX: 498, xTitle: 'Time ------>', xTitleY: 383,
  yMin: 29, yMax: 36, yStep: 1, yDec: 0, yMinor: 0.2, legend: Object.assign({loc: 'upper left'}, lumLegend),
  datasets: [lumTotalR, lumDustR, lumGasR, lumSpotR, lumStarR].map((v, i) => series(lumNames[i], v, lumColors[i], lineSt))});

// middle row: light curves
panel({rect: {l: 32, t: 433, r: 433, b: 719}, title: 'Multi−band Lightcurves', titleY: 402, topLabels: mdotTicksL, topTitleY: 417,
  yTitle: '<------ Magnitude', yTitleX: 10, xTitle: 'Time Steps ------>', xTitleY: 741,
  yMin: 4.37, yMax: 18.63, reverse: true, yStep: 2, yDec: 0, yMinor: 0.5, legend: Object.assign({loc: 'lower right'}, bandLegend),
  datasets: [magUL, magBPL, magGL, magRPL, magJL, magHL, magKsL, magW1L, magW2L].map((v, i) => series(bandNames[i], v, bandColors[i], magSt))});
panel({rect: {l: 517, t: 433, r: 919, b: 719}, title: 'Multi−band Lightcurves', titleY: 402, topLabels: mdotTicksR, topTitleY: 417,
  yTitle: '<------ Magnitude', yTitleX: 495,
  yMin: 8.12, yMax: 17.51, reverse: true, yStep: 2, yDec: 0, yMinor: 0.5, legend: Object.assign({loc: 'upper left'}, bandLegend),
  datasets: [magUR, magBPR, magGR, magRPR, magJR, magHR, magKsR, magW1R, magW2R].map((v, i) => series(bandNames[i], v, bandColors[i], magSt))});

// bottom row: colours
panel({rect: {l: 57, t: 786, r: 433, b: 864}, title: colTitle, titleY: 755, topLabels: mdotTicksL, topTitleY: 769,
  yMin: 0.314, yMax: 3.0, yStep: 1, yDec: 0, yMinor: 0.2, legend: colLegend,
  datasets: [series(colorNames[0], colBpRpL, colorColors[0], dotSt)]});
panel({rect: {l: 57, t: 880, r: 433, b: 958}, yTitle: 'Color ------>', yTitleX: 10,
  yMin: 0.69, yMax: 1.25, yStep: 0.2, yDec: 1, yMinor: 0.05, legend: colLegend,
  datasets: [series(colorNames[1], colJKsL, colorColors[1], dotSt)]});
panel({rect: {l: 57, t: 974, r: 433, b: 1053}, xTitle: 'Time Steps ------>', xTitleY: 1082,
  yMin: 0.423, yMax: 0.7175, yStep: 0.1, yDec: 1, yMinor: 0.02, legend: colLegend,
  datasets: [series(colorNames[2], colW1W2L, colorColors[2], dotSt)]});

panel({rect: {l: 542, t: 786, r: 919, b: 864}, title: colTitle, titleY: 755, topLabels: mdotTicksR, topTitleY: 769,
  yMin: 0.586, yMax: 1.914, yStep: 0.5, yDec: 1, yMinor: 0.1, legend: colLegend,
  datasets: [series(colorNames[0], colBpRpR, colorColors[0], dotSt)]});
panel({rect: {l: 542, t: 880, r: 919, b: 958}, yTitle: 'Color ------>', yTitleX: 495,
  yMin: 0.827, yMax: 1.373, yStep: 0.2, yDec: 1, yMinor: 0.05, legend: colLegend,
  datasets: [series(colorNames[1], colJKsR, colorColors[1], dotSt)]});
panel({rect: {l: 542, t: 974, r: 919, b: 1053}, xTitle: 'Time Steps ------>', xTitleY: 1082,
  yMin: 0.571, yMax: 0.757, yStep: 0.1, yDec: 1, yMinor: 0.02, legend: colLegend,
  datasets: [series(colorNames[2], colW1W2R, colorColors[2], dotSt)]});
</script>
</body>
</html>
